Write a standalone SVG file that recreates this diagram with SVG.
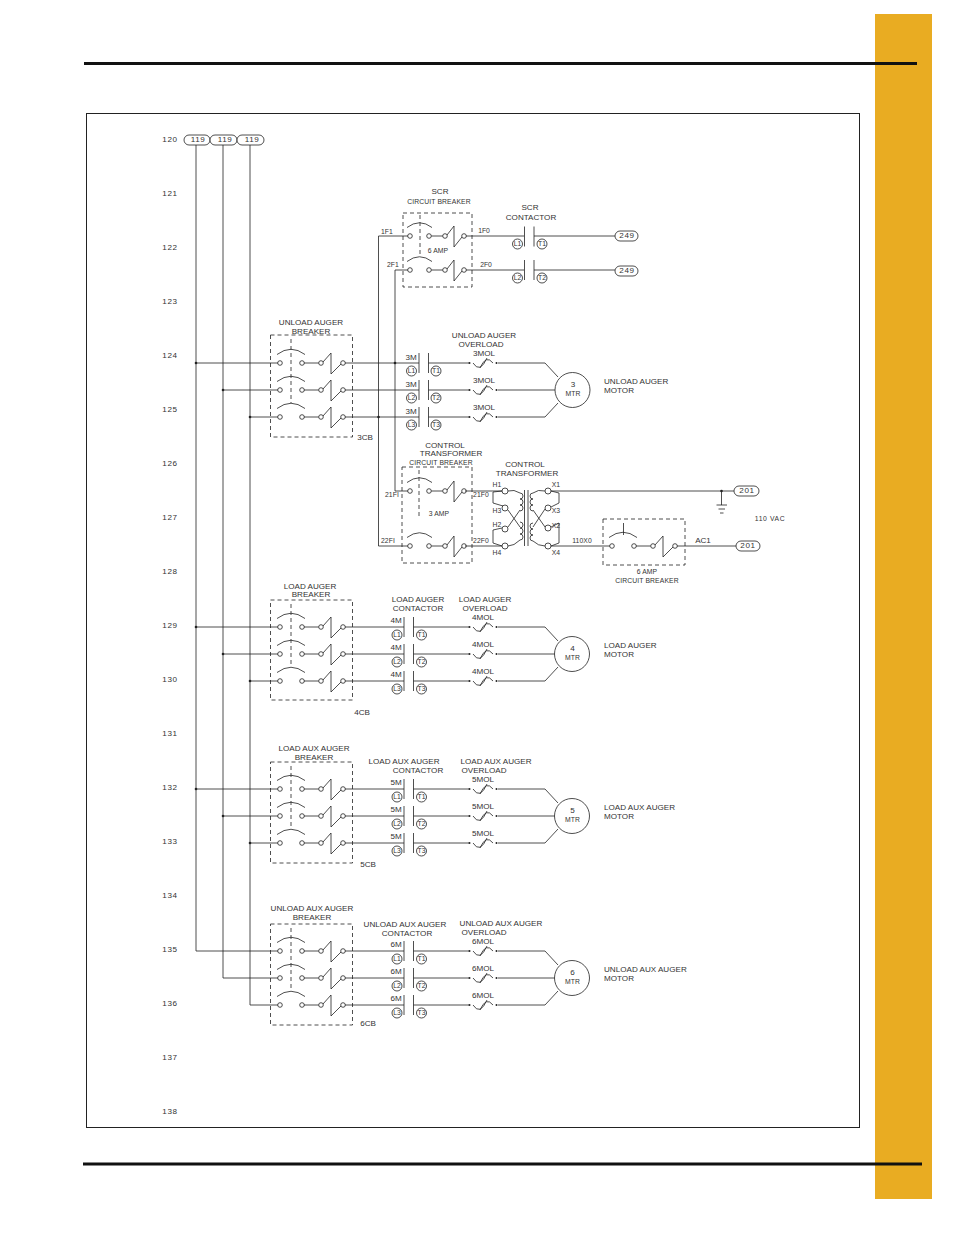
<svg xmlns="http://www.w3.org/2000/svg" width="954" height="1235" viewBox="0 0 954 1235">
<style>
text{font-family:"Liberation Sans",Arial,sans-serif;font-size:8.100px;fill:#333;text-anchor:middle;dominant-baseline:central;transform:translateY(-.6px)}
#line-numbers text,#bus-119 text,#terminal-249 text,#terminal-201 text{letter-spacing:.6px}
.s{font-size:6.800px}
.c{font-size:6.800px;letter-spacing:.1px}
.l{text-anchor:start}
.w,.w *{fill:none;stroke:#222;stroke-width:.8}
.d{fill:none;stroke:#222;stroke-width:.8;stroke-dasharray:4 3}
.f{fill:#fff;stroke:#222;stroke-width:.8}
.k{fill:#222}
</style>
<defs>
<g id="pole" class="w"><circle r="2.300"/><circle cx="22" r="2.300"/><circle cx="41" r="2.300"/><circle cx="63" r="2.300"/><path d="M-3-8.500Q11-19 25-8.500M24 0H38.700M43-1L51-10V11L61 1"/></g>
<g id="pole2" class="w"><circle r="2.300"/><circle cx="19" r="2.300"/><circle cx="35" r="2.300"/><circle cx="54" r="2.300"/><path d="M-3-8.500Q9.500-18 22-8.500M21.300 0H32.700M37-1L44-10V11L52 1"/></g>
<g id="ol" class="w"><path d="M4 0Q11 11 18-5M11 5Q17-9 24 0"/></g>
<g id="dots"><circle cx="0" r="1" class="k"/><circle cx="27" r="1" class="k"/></g>
<g id="bars" class="w"><path d="M0-10V10M9.500-10V10"/></g>
</defs>
<rect width="954" height="1235" fill="#fff"/>
<rect x="875" y="14" width="57" height="1185" fill="#E9AC22"/>
<rect x="84" y="62" width="833" height="3" fill="#111"/>
<rect x="83" y="1162.500" width="839" height="3" fill="#111"/>
<rect x="86.500" y="113.500" width="773" height="1014" fill="none" stroke="#222" stroke-width="1"/>

<g id="line-numbers">
<text x="170" y="140">120</text><text x="170" y="194">121</text><text x="170" y="248">122</text><text x="170" y="302">123</text><text x="170" y="356">124</text><text x="170" y="410">125</text><text x="170" y="464">126</text><text x="170" y="518">127</text><text x="170" y="572">128</text><text x="170" y="626">129</text><text x="170" y="680">130</text><text x="170" y="734">131</text><text x="170" y="788">132</text><text x="170" y="842">133</text><text x="170" y="896">134</text><text x="170" y="950">135</text><text x="170" y="1004">136</text><text x="170" y="1058">137</text><text x="170" y="1112">138</text>
</g>

<g id="connectors" class="w">
<path d="M196 145V951H278M223 145V978H278M250 145V1005H278"/>
<path d="M196 363H278M223 390H278M250 417H278M196 627H278M223 654H278M250 681H278M196 789H278M223 816H278M250 843H278"/>
<path d="M345 363H419M345 390H419M345 417H419M428.500 363H469M428.500 390H469M428.500 417H469M498 363H545L558 377M498 390H555M498 417H545L558 403"/>
<path d="M345 627H404M345 654H404M345 681H404M413.500 627H469M413.500 654H469M413.500 681H469M498 627H545L558 641M498 654H555M498 681H545L558 667"/>
<path d="M345 789H404M345 816H404M345 843H404M413.500 789H469M413.500 816H469M413.500 843H469M498 789H545L558 803M498 816H555M498 843H545L558 829"/>
<path d="M345 951H404M345 978H404M345 1005H404M413.500 951H469M413.500 978H469M413.500 1005H469M498 951H545L558 965M498 978H555M498 1005H545L558 991"/>
<path d="M408 236H378.500V546H408M408 270H395V491H408"/>
<path d="M466 236H524M534 236H615M466 270H524M534 270H615"/>
<path d="M465 491H502M465 546H502M551 491H734M551 546H610M677 546H736M721.500 491V505"/>
</g>
<g id="junctions">
<circle cx="196" cy="363" r="1.300" class="k"/><circle cx="223" cy="390" r="1.300" class="k"/><circle cx="250" cy="417" r="1.300" class="k"/>
<circle cx="196" cy="627" r="1.300" class="k"/><circle cx="223" cy="654" r="1.300" class="k"/><circle cx="250" cy="681" r="1.300" class="k"/>
<circle cx="196" cy="789" r="1.300" class="k"/><circle cx="223" cy="816" r="1.300" class="k"/><circle cx="250" cy="843" r="1.300" class="k"/>
<circle cx="395" cy="363" r="1.300" class="k"/><circle cx="378.500" cy="417" r="1.300" class="k"/><circle cx="721.500" cy="491" r="1.300" class="k"/>
</g>

<g id="bus-119">
<rect x="184" y="135" width="26" height="10" rx="5" class="f"/><text x="198" y="140">119</text>
<rect x="210" y="135" width="27" height="10" rx="5" class="f"/><text x="225" y="140">119</text>
<rect x="237" y="135" width="27" height="10" rx="5" class="f"/><text x="252" y="140">119</text>
</g>

<g id="scr-breaker">
<text x="440" y="192">SCR</text><text x="439" y="202" class="c">CIRCUIT BREAKER</text>
<rect x="403" y="213" width="69" height="74" class="d"/>
<path d="M420 215V257" class="d"/>
<use href="#pole2" x="410" y="236"/><use href="#pole2" x="410" y="270"/>
<text x="438" y="251" class="c">6 AMP</text>
<text x="387" y="232" class="c">1F1</text><text x="393" y="265" class="c">2F1</text><text x="484" y="231" class="s">1F0</text><text x="486" y="265" class="s">2F0</text>
</g>
<g id="scr-contactor">
<text x="530" y="208">SCR</text><text x="531" y="218">CONTACTOR</text>
<use href="#bars" x="524.500" y="236.500"/><use href="#bars" x="524.500" y="270"/>
<circle cx="517.500" cy="244" r="5" class="f"/><text x="517.500" y="244" class="s">L1</text>
<circle cx="542" cy="244" r="5" class="f"/><text x="542" y="244" class="s">T1</text>
<circle cx="517.500" cy="278" r="5" class="f"/><text x="517.500" y="278" class="s">L2</text>
<circle cx="542" cy="278" r="5" class="f"/><text x="542" y="278" class="s">T2</text>
</g>
<g id="terminal-249">
<rect x="615" y="231" width="23" height="10" rx="5" class="f"/><text x="627" y="236">249</text>
<rect x="615" y="266" width="23" height="10" rx="5" class="f"/><text x="627" y="271">249</text>
</g>

<g id="unload-auger-breaker">
<text x="311" y="323.500">UNLOAD AUGER</text><text x="311" y="332">BREAKER</text>
<rect x="270.500" y="335" width="82" height="102" class="d"/><path d="M291 339V403" class="d"/>
<use href="#pole" x="280" y="363"/><use href="#pole" x="280" y="390"/><use href="#pole" x="280" y="417"/>
<text x="365" y="438">3CB</text>
</g>
<g id="unload-auger-contactor">
<use href="#bars" x="419" y="363"/><use href="#bars" x="419" y="390"/><use href="#bars" x="419" y="417"/>
<text x="411" y="358">3M</text><text x="411" y="385">3M</text><text x="411" y="412">3M</text>
<circle cx="411.500" cy="371" r="5" class="f"/><text x="411.500" y="371" class="s">L1</text><circle cx="436" cy="371" r="5" class="f"/><text x="436" y="371" class="s">T1</text>
<circle cx="411.500" cy="398" r="5" class="f"/><text x="411.500" y="398" class="s">L2</text><circle cx="436" cy="398" r="5" class="f"/><text x="436" y="398" class="s">T2</text>
<circle cx="411.500" cy="425" r="5" class="f"/><text x="411.500" y="425" class="s">L3</text><circle cx="436" cy="425" r="5" class="f"/><text x="436" y="425" class="s">T3</text>
</g>
<g id="unload-auger-overload">
<text x="484" y="336.500">UNLOAD AUGER</text><text x="481" y="345">OVERLOAD</text>
<text x="484" y="354">3MOL</text><text x="484" y="381">3MOL</text><text x="484" y="408">3MOL</text>
<use href="#ol" x="469" y="363"/><use href="#dots" x="469.500" y="363"/><use href="#ol" x="469" y="390"/><use href="#dots" x="469.500" y="390"/><use href="#ol" x="469" y="417"/><use href="#dots" x="469.500" y="417"/>
</g>
<g id="motor-3">
<circle cx="572.500" cy="390" r="17.500" class="f"/><text x="573" y="385">3</text><text x="573" y="394" class="c">MTR</text>
<text x="604" y="382" class="l">UNLOAD AUGER</text><text x="604" y="391" class="l">MOTOR</text>
</g>

<g id="control-transformer-breaker">
<text x="445" y="446">CONTROL</text><text x="451" y="454.500">TRANSFORMER</text><text x="441" y="463" class="c">CIRCUIT BREAKER</text>
<rect x="402" y="467" width="70" height="96" class="d"/><path d="M419 470V517" class="d"/>
<use href="#pole2" x="410" y="491"/><use href="#pole2" x="410" y="546"/>
<text x="439" y="514" class="c">3 AMP</text>
<text x="392" y="495" class="c">21FI</text><text x="388" y="541" class="c">22FI</text><text x="481" y="495" class="c">21F0</text><text x="481" y="541" class="c">22F0</text>
</g>
<g id="control-transformer">
<text x="525" y="465">CONTROL</text><text x="527" y="474">TRANSFORMER</text>
<circle cx="505" cy="491" r="3" class="f"/><circle cx="505" cy="508" r="3" class="f"/><circle cx="505" cy="529" r="3" class="f"/><circle cx="505" cy="546" r="3" class="f"/>
<circle cx="548" cy="491" r="3" class="f"/><circle cx="548" cy="508" r="3" class="f"/><circle cx="548" cy="528" r="3" class="f"/><circle cx="548" cy="546" r="3" class="f"/>
<path class="w" d="M502 491L493 492V503L503 506M502 528L493 530V543L502 546M551 491L559 493V503L551 507M551 527L559 523V543L551 546"/>
<path class="w" d="M508 491Q514 489 520 493a3 3 0 0 1 0 6a3 3 0 0 1 0 6a3 3 0 0 1 0 6M508 510L520 527M508 527L520 510M520 522a3 3 0 0 1 0 6a3 3 0 0 1 0 6a3 3 0 0 1 0 6Q514 546 508 546"/>
<path class="w" d="M524.500 490V546M528 490V546"/>
<path class="w" d="M545 491Q538 489 533 493a3 3 0 0 0 0 6a3 3 0 0 0 0 6a3 3 0 0 0 0 6M545 509L533 527M545 527L533 510M533 523a3 3 0 0 0 0 6a3 3 0 0 0 0 6a3 3 0 0 0 0 6Q538 546 545 546"/>
<text x="497" y="485" class="c">H1</text><text x="497" y="511" class="c">H3</text><text x="497" y="525" class="c">H2</text><text x="497" y="553" class="c">H4</text>
<text x="556" y="485" class="c">X1</text><text x="556" y="511" class="c">X3</text><text x="556" y="526" class="c">X2</text><text x="556" y="553" class="c">X4</text>
<text x="582" y="541" class="c">110X0</text>
</g>
<g id="ground"><path class="w" d="M716.500 505H727M718.500 509H725M720 513H723.500"/></g>
<g id="terminal-201">
<rect x="734" y="486" width="25" height="10" rx="5" class="f"/><text x="747" y="491">201</text>
<rect x="736" y="541" width="24" height="10" rx="5" class="f"/><text x="748" y="546">201</text>
<text x="770" y="519" class="c">110 VAC</text>
</g>
<g id="ac-breaker">
<rect x="603" y="519" width="82" height="46" class="d"/><path d="M623.500 523V535" class="w"/>
<use href="#pole" x="612" y="546"/>
<text x="703" y="541">AC1</text><text x="647" y="572" class="c">6 AMP</text><text x="647" y="581" class="c">CIRCUIT BREAKER</text>
</g>

<g id="load-auger-breaker">
<text x="310" y="587">LOAD AUGER</text><text x="311" y="595.500">BREAKER</text>
<rect x="270.500" y="600" width="82" height="100" class="d"/><path d="M291 604V667" class="d"/>
<use href="#pole" x="280" y="627"/><use href="#pole" x="280" y="654"/><use href="#pole" x="280" y="681"/>
<text x="362" y="713">4CB</text>
</g>
<g id="load-auger-contactor">
<text x="418" y="600">LOAD AUGER</text><text x="418" y="609">CONTACTOR</text>
<use href="#bars" x="404" y="627"/><use href="#bars" x="404" y="654"/><use href="#bars" x="404" y="681"/>
<text x="396" y="621">4M</text><text x="396" y="648">4M</text><text x="396" y="675">4M</text>
<circle cx="397" cy="635" r="5" class="f"/><text x="397" y="635" class="s">L1</text><circle cx="421.500" cy="635" r="5" class="f"/><text x="421.500" y="635" class="s">T1</text>
<circle cx="397" cy="662" r="5" class="f"/><text x="397" y="662" class="s">L2</text><circle cx="421.500" cy="662" r="5" class="f"/><text x="421.500" y="662" class="s">T2</text>
<circle cx="397" cy="689" r="5" class="f"/><text x="397" y="689" class="s">L3</text><circle cx="421.500" cy="689" r="5" class="f"/><text x="421.500" y="689" class="s">T3</text>
</g>
<g id="load-auger-overload">
<text x="485" y="600">LOAD AUGER</text><text x="485" y="609">OVERLOAD</text>
<text x="483" y="618">4MOL</text><text x="483" y="645">4MOL</text><text x="483" y="672">4MOL</text>
<use href="#ol" x="469" y="627"/><use href="#dots" x="469.500" y="627"/><use href="#ol" x="469" y="654"/><use href="#dots" x="469.500" y="654"/><use href="#ol" x="469" y="681"/><use href="#dots" x="469.500" y="681"/>
</g>
<g id="motor-4">
<circle cx="572" cy="654" r="17.500" class="f"/><text x="572.500" y="649">4</text><text x="572.500" y="658" class="c">MTR</text>
<text x="604" y="646" class="l">LOAD AUGER</text><text x="604" y="655" class="l">MOTOR</text>
</g>

<g id="load-aux-auger-breaker">
<text x="314" y="749">LOAD AUX AUGER</text><text x="314" y="758">BREAKER</text>
<rect x="270.500" y="762" width="82" height="101" class="d"/><path d="M291 766V829" class="d"/>
<use href="#pole" x="280" y="789"/><use href="#pole" x="280" y="816"/><use href="#pole" x="280" y="843"/>
<text x="368" y="865">5CB</text>
</g>
<g id="load-aux-auger-contactor">
<text x="404" y="762">LOAD AUX AUGER</text><text x="418" y="771">CONTACTOR</text>
<use href="#bars" x="404" y="789"/><use href="#bars" x="404" y="816"/><use href="#bars" x="404" y="843"/>
<text x="396" y="783">5M</text><text x="396" y="810">5M</text><text x="396" y="837">5M</text>
<circle cx="397" cy="797" r="5" class="f"/><text x="397" y="797" class="s">L1</text><circle cx="421.500" cy="797" r="5" class="f"/><text x="421.500" y="797" class="s">T1</text>
<circle cx="397" cy="824" r="5" class="f"/><text x="397" y="824" class="s">L2</text><circle cx="421.500" cy="824" r="5" class="f"/><text x="421.500" y="824" class="s">T2</text>
<circle cx="397" cy="851" r="5" class="f"/><text x="397" y="851" class="s">L3</text><circle cx="421.500" cy="851" r="5" class="f"/><text x="421.500" y="851" class="s">T3</text>
</g>
<g id="load-aux-auger-overload">
<text x="496" y="762">LOAD AUX AUGER</text><text x="484" y="771">OVERLOAD</text>
<text x="483" y="780">5MOL</text><text x="483" y="807">5MOL</text><text x="483" y="834">5MOL</text>
<use href="#ol" x="469" y="789"/><use href="#dots" x="469.500" y="789"/><use href="#ol" x="469" y="816"/><use href="#dots" x="469.500" y="816"/><use href="#ol" x="469" y="843"/><use href="#dots" x="469.500" y="843"/>
</g>
<g id="motor-5">
<circle cx="572" cy="816" r="17.500" class="f"/><text x="572.500" y="811">5</text><text x="572.500" y="820" class="c">MTR</text>
<text x="604" y="808" class="l">LOAD AUX AUGER</text><text x="604" y="817" class="l">MOTOR</text>
</g>

<g id="unload-aux-auger-breaker">
<text x="312" y="909.500">UNLOAD AUX AUGER</text><text x="312" y="918">BREAKER</text>
<rect x="270.500" y="924" width="82" height="101" class="d"/><path d="M291 928V991" class="d"/>
<use href="#pole" x="280" y="951"/><use href="#pole" x="280" y="978"/><use href="#pole" x="280" y="1005"/>
<text x="368" y="1024">6CB</text>
</g>
<g id="unload-aux-auger-contactor">
<text x="405" y="925.500">UNLOAD AUX AUGER</text><text x="407" y="934">CONTACTOR</text>
<use href="#bars" x="404" y="951"/><use href="#bars" x="404" y="978"/><use href="#bars" x="404" y="1005"/>
<text x="396" y="945">6M</text><text x="396" y="972">6M</text><text x="396" y="999">6M</text>
<circle cx="397" cy="959" r="5" class="f"/><text x="397" y="959" class="s">L1</text><circle cx="421.500" cy="959" r="5" class="f"/><text x="421.500" y="959" class="s">T1</text>
<circle cx="397" cy="986" r="5" class="f"/><text x="397" y="986" class="s">L2</text><circle cx="421.500" cy="986" r="5" class="f"/><text x="421.500" y="986" class="s">T2</text>
<circle cx="397" cy="1013" r="5" class="f"/><text x="397" y="1013" class="s">L3</text><circle cx="421.500" cy="1013" r="5" class="f"/><text x="421.500" y="1013" class="s">T3</text>
</g>
<g id="unload-aux-auger-overload">
<text x="501" y="924">UNLOAD AUX AUGER</text><text x="484" y="933">OVERLOAD</text>
<text x="483" y="942">6MOL</text><text x="483" y="969">6MOL</text><text x="483" y="996">6MOL</text>
<use href="#ol" x="469" y="951"/><use href="#dots" x="469.500" y="951"/><use href="#ol" x="469" y="978"/><use href="#dots" x="469.500" y="978"/><use href="#ol" x="469" y="1005"/><use href="#dots" x="469.500" y="1005"/>
</g>
<g id="motor-6">
<circle cx="572" cy="978" r="17.500" class="f"/><text x="572.500" y="973">6</text><text x="572.500" y="982" class="c">MTR</text>
<text x="604" y="970" class="l">UNLOAD AUX AUGER</text><text x="604" y="979" class="l">MOTOR</text>
</g>
</svg>
